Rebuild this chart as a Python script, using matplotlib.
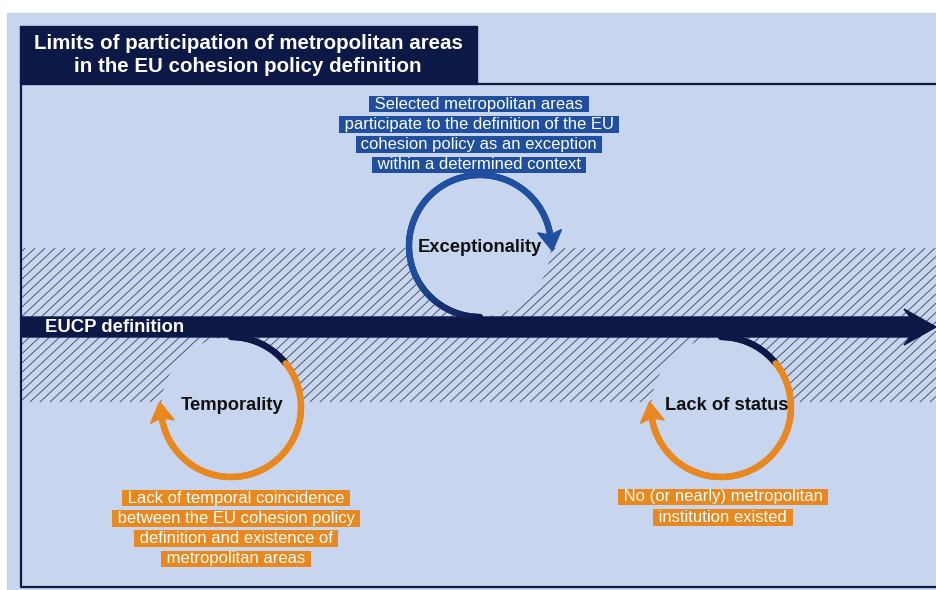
import numpy as np
import matplotlib
matplotlib.use("Agg")
import matplotlib.pyplot as plt
from matplotlib.patches import Rectangle, Circle, Polygon
from matplotlib.collections import LineCollection
from matplotlib.colors import to_rgb

plt.rcParams['font.family'] = ['Liberation Sans', 'DejaVu Sans']

title = "Limits of participation of metropolitan areas\nin the EU cohesion policy definition"
axis_label = "EUCP definition"
limits = ["Exceptionality", "Temporality", "Lack of status"]
notes = [
    ["Selected metropolitan areas",
     "participate to the definition of the EU",
     "cohesion policy as an exception",
     "within a determined context"],
    ["Lack of temporal coincidence",
     "between the EU cohesion policy",
     "definition and existence of",
     "metropolitan areas"],
    ["No (or nearly) metropolitan",
     "institution existed"],
]

BG = "#c7d5ee"
NAVY = "#0c1846"
BLUE = "#1f4f9e"
ORANGE = "#e8881e"

fig = plt.figure(figsize=(9.36, 5.9), dpi=100)
ax = fig.add_axes([0, 0, 1, 1])
ax.set_xlim(0, 936)
ax.set_ylim(590, 0)
ax.axis("off")

ax.add_patch(Rectangle((7, 13), 929, 577, color=BG, zorder=0))

# hatched band around the definition axis, clipped by hand to x 21..936
y_lo, y_hi = 402, 248
slope = 1 / np.tan(np.radians(43))
segs = []
for c in range(-200, 1000, 10):
    x0, x1 = c, c + (y_lo - y_hi) * slope
    ya, yb = y_lo, y_hi
    if x1 < 21 or x0 > 936:
        continue
    if x0 < 21:
        ya = y_lo - (21 - x0) / slope
        x0 = 21
    if x1 > 936:
        yb = y_lo - (936 - c) / slope
        x1 = 936
    segs.append([(x0, ya), (x1, yb)])
ax.add_collection(LineCollection(segs, colors="#3e4459", linewidths=0.6, zorder=1))

# frame and title box
ax.plot([21, 21, 936], [84, 587, 587], color=NAVY, lw=1.6, zorder=2)
ax.plot([477, 936], [84, 84], color=NAVY, lw=1.6, zorder=2)
ax.add_patch(Rectangle((20, 26), 457, 58, color=NAVY, zorder=3))
ax.text(248, 55, title, color="white", fontsize=14.8, fontweight="bold",
        ha="center", va="center", linespacing=1.22, zorder=4)

# main arrow
ax.add_patch(Polygon([(21, 317), (910, 317), (904, 309), (936, 327),
                      (904, 345), (910, 337), (21, 337)],
                     closed=True, color=NAVY, zorder=5))
ax.text(45, 327, axis_label, color="white", fontsize=13.3, fontweight="bold",
        ha="left", va="center", zorder=6)


def arc_arrow(cx, cy, r, t0, t1, colfun, head_len=20, head_w=12):
    th = np.radians(np.linspace(t0, t1, 200))
    x = cx + r * np.cos(th)
    y = cy - r * np.sin(th)
    pts = np.column_stack([x, y])
    segs = np.stack([pts[:-1], pts[1:]], axis=1)
    mid = np.degrees((th[:-1] + th[1:]) / 2)
    lc = LineCollection(segs, colors=[colfun(m) for m in mid],
                        linewidths=4.6, capstyle="round", zorder=7)
    ax.add_collection(lc)
    te = th[-1]
    d = np.array([np.sin(te), np.cos(te)])
    n = np.array([-d[1], d[0]])
    base = pts[-1]
    tip = base + d * head_len * 0.75
    head = [tip, base - d * head_len * 0.25 + n * head_w, base - d * head_len * 0.05,
            base - d * head_len * 0.25 - n * head_w]
    ax.add_patch(Polygon(head, closed=True, color=colfun(t1), zorder=8))


def mix(c1, c2, f):
    a, b = np.array(to_rgb(c1)), np.array(to_rgb(c2))
    return tuple(a + (b - a) * np.clip(f, 0, 1))


circles = [(480, 246, 71), (231, 407, 70), (721, 407, 70)]
for cx, cy, r in circles:
    ax.add_patch(Circle((cx, cy), r - 1, color=BG, zorder=2))

# exceptionality: clockwise from the bottom, dark to blue
cx, cy, r = circles[0]
arc_arrow(cx, cy, r, 270, 8, lambda t: mix(NAVY, BLUE, (270 - t) / 70))
# temporality and lack of status: navy start, then orange
for cx, cy, r in circles[1:]:
    arc_arrow(cx, cy, r, 90, -172, lambda t: NAVY if t > 38 else ORANGE)

label_pos = [(480, 248), (232, 405), (727, 405)]
for (lx, ly), lab in zip(label_pos, limits):
    ax.text(lx, ly, lab, fontsize=13.2, fontweight="bold", color="#111111",
            ha="center", va="center", zorder=9)

note_pos = [(479, 104, BLUE), (236, 498, ORANGE), (723, 497, ORANGE)]
for (nx, ny, col), lines in zip(note_pos, notes):
    for i, line in enumerate(lines):
        ax.text(nx, ny + i * 20.3, " " + line + " ", fontsize=12, color="white",
                ha="center", va="center", zorder=9,
                bbox=dict(boxstyle="square,pad=0.05", facecolor=col, edgecolor="none"))

fig.savefig("out.png", dpi=100, facecolor="white")
